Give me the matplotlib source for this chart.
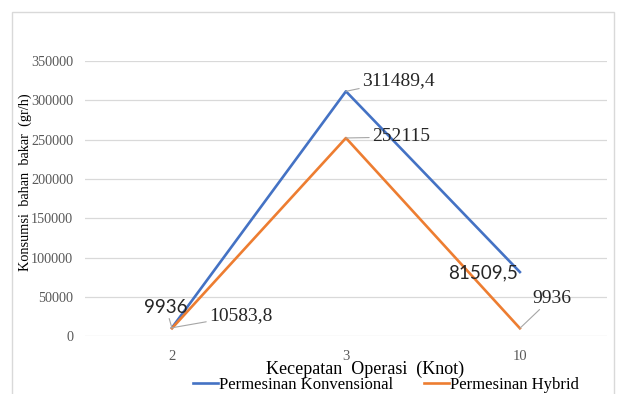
import matplotlib.pyplot as plt
from matplotlib.patches import Rectangle

# Fuel consumption per operating speed
speeds = ['2', '3', '10']
konvensional = [10583.8, 311489.4, 81509.5]
hybrid = [9936, 252115, 9936]
y_ticks = [0, 50000, 100000, 150000, 200000, 250000, 300000, 350000]

BLUE = '#4472C4'
ORANGE = '#ED7D31'
GRID = '#d9d9d9'
SERIF = 'Liberation Serif'

fig = plt.figure(figsize=(6.25, 3.94), dpi=100)
ax = fig.add_axes([0.136, 0.147, 0.835, 0.698])

x = range(len(speeds))
ax.plot(x, konvensional, color=BLUE, lw=1.9, label='Permesinan Konvensional')
ax.plot(x, hybrid, color=ORANGE, lw=1.9, label='Permesinan Hybrid')

ax.set_xlim(-0.5, 2.5)
ax.set_ylim(0, 350000)
ax.set_yticks(y_ticks)
ax.set_yticklabels([str(v) for v in y_ticks], fontfamily=SERIF, fontsize=10.3, color='#595959')
ax.set_xticks(list(x))
ax.set_xticklabels(speeds, fontfamily=SERIF, fontsize=10.5, color='#595959')
ax.tick_params(length=0, pad=8.5)
ax.tick_params(axis='x', pad=10)
ax.grid(axis='y', color=GRID, lw=0.9)
ax.set_axisbelow(True)
for s in ax.spines.values():
    s.set_visible(False)

ax.set_xlabel('Kecepatan  Operasi  (Knot)', fontfamily=SERIF, fontsize=13)
ax.xaxis.set_label_coords(0.536, -0.09)
ax.set_ylabel('Konsumsi  bahan  bakar  (gr/h)', fontfamily=SERIF, fontsize=10.3)
ax.yaxis.set_label_coords(-0.102, 0.56)

# data labels, some pulled away from their points with grey leader lines
lead = dict(arrowstyle='-', color='#a6a6a6', lw=0.8, shrinkA=0, shrinkB=0)


def label(i, val, text, dx, dy, ha='left', family=SERIF, leader=True, size=14):
    ax.annotate(text, (i, val), xytext=(dx, dy), textcoords='offset pixels',
                ha=ha, va='center', fontfamily=family, fontsize=size, color='#262626',
                arrowprops=lead if leader else None)


label(1, konvensional[1], '311489,4', 16, 11)
label(1, hybrid[1], '252115', 26, 1)
label(2, konvensional[2], '81509,5', -37, -1, ha='center', family='Lato', leader=False, size=13.5)
label(2, hybrid[2], '9936', 12, 30)
label(0, konvensional[0], '10583,8', 37, 12)
label(0, hybrid[0], '9936', -6, 21, ha='center', family='Lato', size=13.5)

fig.legend(loc='center', bbox_to_anchor=(386 / 625, 0.024), ncol=2, frameon=False,
           prop={'family': SERIF, 'size': 12}, handlelength=1.5, handletextpad=0.05,
           columnspacing=1.9, borderpad=0.1)

# chart area border
fig.patches.append(Rectangle((12 / 625, -0.1), 602 / 625, 1.1 - 12 / 394,
                             transform=fig.transFigure, fill=False,
                             edgecolor=GRID, lw=1))

fig.savefig('out.png', dpi=100)
